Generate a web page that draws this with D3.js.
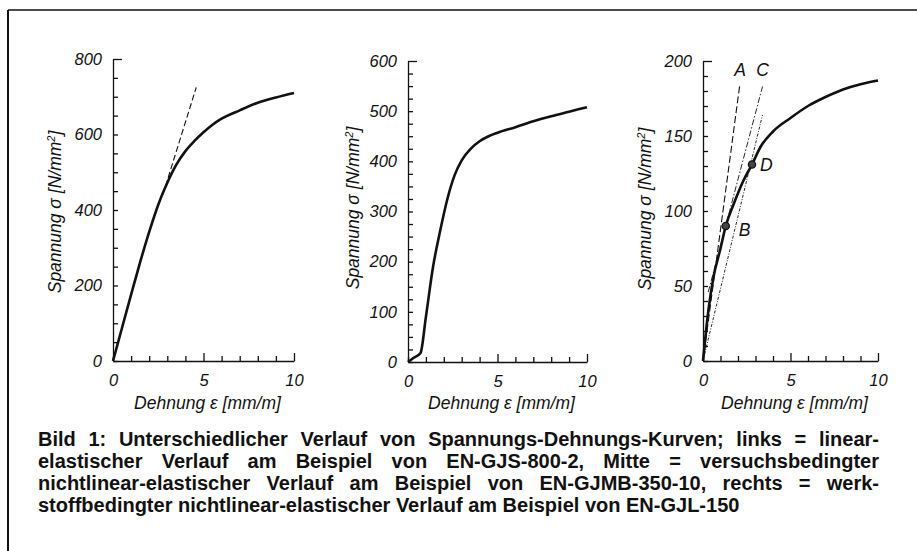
<!DOCTYPE html>
<html>
    <head>
        <meta http-equiv="Content-Type" content="text/html;charset=utf-8">
        <script src="https://d3js.org/d3.v7.min.js"></script>
        <title>Spannungs-Dehnungs-Kurven</title>
        <style>
            body { margin:0; background:#fff; }
            svg { display:block; }
            text { font-family:"Liberation Sans", Arial, Helvetica, sans-serif; fill:#111; }
            .tick text { font-style:italic; font-size:16.5px; }
            .ttl { font-style:italic; font-size:17.5px; }
            .cap { font-weight:bold; }
        </style>
    </head>
    <body>
        <svg width="917" height="551"></svg>
    <script>
        // --- data ---
        var xLabels = [0, 5, 10];
        var xMinor = [0,1,2,3,4,5,6,7,8,9,10];

        var leftYLabels = [0, 200, 400, 600, 800];
        var midYLabels = [0, 100, 200, 300, 400, 500, 600];
        var rightYLabels = [0, 50, 100, 150, 200];

        // links: EN-GJS-800-2
        var leftCurve = [[0,0],[0.5,88],[1,176],[1.5,262],[2,342],[2.5,414],[3,472],[3.5,520],
                         [4,556],[4.5,583],[5,606],[5.5,626],[6,642],[7,664],[8,684],[9,698],[10,710]];
        var leftTangent = [[2.75,440],[4.6,725]];

        // Mitte: EN-GJMB-350-10
        var midCurve = [[0,0],[0.3,8],[0.7,18],[1.0,90],[1.4,190],[1.8,262],[2.2,325],[2.6,372],
                        [3.0,402],[3.5,425],[4,440],[4.5,450],[5,457],[6,468],[7,480],[8,490],[9,499],[10,508]];

        // rechts: EN-GJL-150
        var rightCurve = [[0,0],[0.3,33],[0.6,56],[1.0,75],[1.3,90],[1.8,106],[2.3,120],[2.8,131],
                          [3.3,143],[4,153],[5,162],[6,170],[7,176],[8,181],[9,184.5],[10,187]];
        var lineA = [[0,0],[2.1,184]];
        var lineC = [[0.3,46],[3.4,183]];
        var lineD = [[0,0],[3.4,164]];
        var markPoints = [{name:"B", x:1.3, y:90}, {name:"D", x:2.8, y:131}];
        var lineNames = [{name:"A", x:2.12, y:190}, {name:"C", x:3.4, y:190}];

        var caption = [
            "Bild 1: Unterschiedlicher Verlauf von Spannungs-Dehnungs-Kurven; links = linear-",
            "elastischer Verlauf am Beispiel von EN-GJS-800-2, Mitte = versuchsbedingter",
            "nichtlinear-elastischer Verlauf am Beispiel von EN-GJMB-350-10, rechts = werk-",
            "stoffbedingter nichtlinear-elastischer Verlauf am Beispiel von EN-GJL-150"
        ];

        var svg = d3.select("svg");

        // frame of the scanned figure
        svg.append("line").attr("x1",8).attr("y1",10).attr("x2",917).attr("y2",10)
            .attr("stroke","#111").attr("stroke-width",1.6);
        svg.append("line").attr("x1",8).attr("y1",10).attr("x2",8).attr("y2",551)
            .attr("stroke","#111").attr("stroke-width",2);

        function panel(p){
            var x = d3.scaleLinear().domain([0,10]).range([p.x0, p.x1]);
            var y = d3.scaleLinear().domain([0,p.yMax]).range([p.y0, p.y1]);
            var g = svg.append("g");

            // y axis, ticks pointing inwards
            var ya = g.append("g").attr("transform","translate(" + p.x0 + ",0)")
                .call(d3.axisRight(y).tickValues(d3.range(0, p.yMax + 1, p.yMinor))
                    .tickSize(5).tickSizeOuter(0).tickFormat(""));
            ya.selectAll(".tick line").attr("x2", function(d){ return d == p.yMax ? 9 : 5; });
            g.append("g").attr("transform","translate(" + p.x0 + ",0)")
                .call(d3.axisLeft(y).tickValues(p.yLabels).tickSize(0).tickPadding(11))
                .select(".domain").remove();

            // x axis, ticks pointing up
            var xa = g.append("g").attr("transform","translate(0," + p.y0 + ")")
                .call(d3.axisTop(x).tickValues(xMinor).tickSize(5).tickSizeOuter(0).tickFormat(""));
            xa.selectAll(".tick line").attr("y2", function(d){ return d % 5 == 0 && d > 0 ? -8 : -5; });
            g.append("g").attr("transform","translate(0," + p.y0 + ")")
                .call(d3.axisBottom(x).tickValues(xLabels).tickSize(0).tickPadding(13))
                .select(".domain").remove();

            g.selectAll(".domain, .tick line").attr("stroke","#111").attr("stroke-width",1.3);

            g.append("text").attr("class","ttl")
                .attr("transform","translate(" + p.tx + "," + p.ty + ") rotate(-90)")
                .attr("text-anchor","middle").attr("dy","0.35em")
                .html("Spannung σ [N/mm<tspan dy='-6' font-size='11px'>2</tspan><tspan dy='6'>]</tspan>");
            g.append("text").attr("class","ttl")
                .attr("x",(p.x0 + p.x1) / 2 + 4).attr("y",409)
                .attr("text-anchor","middle")
                .text("Dehnung ε [mm/m]");

            var line = d3.line().x(function(d){ return x(d[0]); }).y(function(d){ return y(d[1]); });
            return {g:g, x:x, y:y, line:line};
        }

        var L = panel({x0:113, x1:294, y0:361, y1:59, yMax:800, yMinor:50, yLabels:leftYLabels, tx:55, ty:212});
        L.g.append("path").datum(leftCurve)
            .attr("d", L.line.curve(d3.curveMonotoneX))
            .attr("fill","none").attr("stroke","#111").attr("stroke-width",2.6);
        L.g.append("path").datum(leftTangent)
            .attr("d", d3.line().x(function(d){ return L.x(d[0]); }).y(function(d){ return L.y(d[1]); }))
            .attr("fill","none").attr("stroke","#111").attr("stroke-width",1.1)
            .attr("stroke-dasharray","6,3");

        var M = panel({x0:408, x1:587, y0:362, y1:61, yMax:600, yMinor:25, yLabels:midYLabels, tx:353, ty:208});
        M.g.append("path").datum(midCurve)
            .attr("d", M.line.curve(d3.curveMonotoneX))
            .attr("fill","none").attr("stroke","#111").attr("stroke-width",2.6);

        var R = panel({x0:703, x1:878, y0:361, y1:61, yMax:200, yMinor:10, yLabels:rightYLabels, tx:645, ty:209});
        var straight = d3.line().x(function(d){ return R.x(d[0]); }).y(function(d){ return R.y(d[1]); });
        R.g.append("path").datum(lineA).attr("d", straight)
            .attr("fill","none").attr("stroke","#111").attr("stroke-width",1.1).attr("stroke-dasharray","7,3");
        R.g.append("path").datum(lineC).attr("d", straight)
            .attr("fill","none").attr("stroke","#111").attr("stroke-width",0.9).attr("stroke-dasharray","6,2,1.5,2");
        R.g.append("path").datum(lineD).attr("d", straight)
            .attr("fill","none").attr("stroke","#111").attr("stroke-width",0.9).attr("stroke-dasharray","3,1.5,1,1.5");
        R.g.append("path").datum(rightCurve)
            .attr("d", R.line.curve(d3.curveMonotoneX))
            .attr("fill","none").attr("stroke","#111").attr("stroke-width",2.6);
        R.g.selectAll("circle.pt").data(markPoints).enter().append("circle")
            .attr("class","pt")
            .attr("cx", function(d){ return R.x(d.x); })
            .attr("cy", function(d){ return R.y(d.y); })
            .attr("r",3.6).attr("fill","#444").attr("stroke","#111").attr("stroke-width",1.3);
        R.g.selectAll("text.pt").data(markPoints).enter().append("text")
            .attr("class","ttl pt")
            .attr("x", function(d){ return R.x(d.x) + (d.name == "B" ? 13 : 8); })
            .attr("y", function(d){ return R.y(d.y) + (d.name == "B" ? 10 : 6); })
            .text(function(d){ return d.name; });
        R.g.selectAll("text.nm").data(lineNames).enter().append("text")
            .attr("class","ttl nm")
            .attr("x", function(d){ return R.x(d.x); })
            .attr("y", function(d){ return R.y(d.y); })
            .attr("text-anchor","middle")
            .text(function(d){ return d.name; });

        // caption: sized so the last (ragged) line ends near x=740, lines 1-3 justified to 879
        var capLeft = 38, capRight = 879, lastEnd = 740, capY = [446, 468, 490, 512];
        var probe = svg.append("text").attr("class","cap").attr("font-size","18px").text(caption[3]);
        var capSize = 18 * (lastEnd - capLeft) / probe.node().getComputedTextLength();
        probe.remove();
        caption.forEach(function(s, i){
            var words = s.split(" ");
            var t = svg.append("g");
            var nodes = words.map(function(w){
                return t.append("text").attr("class","cap").attr("font-size", capSize + "px")
                    .attr("y",capY[i]).text(w);
            });
            var widths = nodes.map(function(n){ return n.node().getComputedTextLength(); });
            var total = d3.sum(widths);
            var gap = i < caption.length - 1 ? (capRight - capLeft - total) / (words.length - 1) : capSize * 0.278;
            var xx = capLeft;
            nodes.forEach(function(n, k){
                n.attr("x", xx);
                xx += widths[k] + gap;
            });
        });
    </script>
    </body>
</html>
